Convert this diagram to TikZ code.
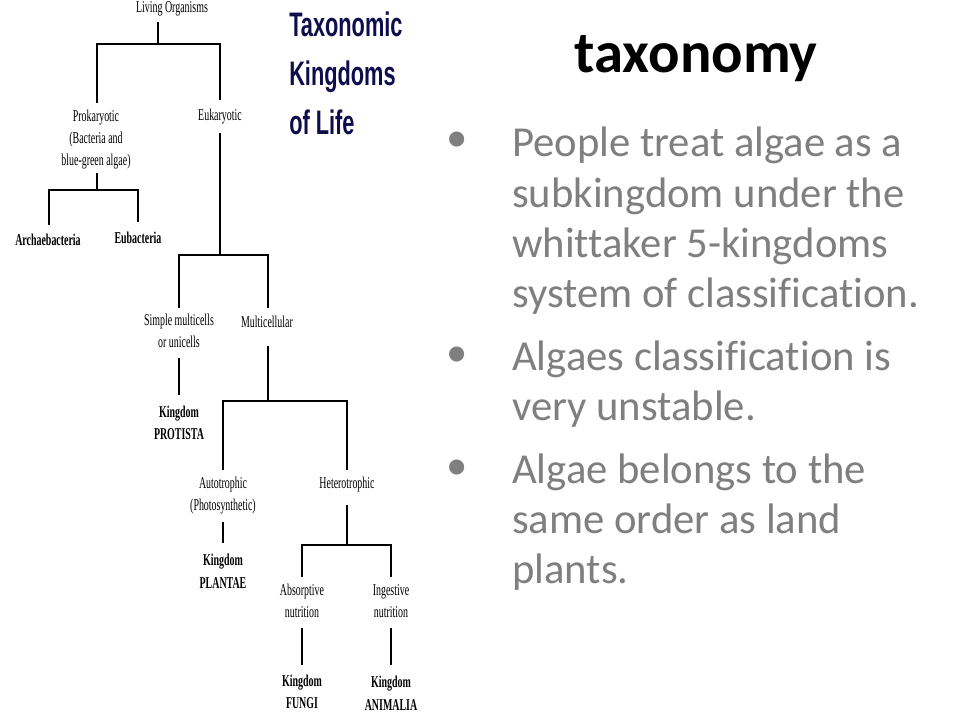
\documentclass[tikz,border=0pt]{standalone}
\usepackage{fontspec}
\setmainfont[Ligatures=NoCommon]{Carlito}
\newfontfamily\treefont[FakeStretch=0.6]{Liberation Serif}
\newfontfamily\titlefont[FakeStretch=0.64]{Liberation Sans}
\definecolor{navy}{HTML}{0E0E4C}
\definecolor{textgray}{HTML}{7F7F7F}
\begin{document}
\begin{tikzpicture}[x=0.75pt,y=-0.75pt,
  tree/.style={font=\treefont\fontsize{12.4}{16.5}\selectfont, inner sep=0pt, align=center},
  kingdom/.style={font=\treefont\bfseries\fontsize{12.4}{17}\selectfont, inner sep=0pt, align=center},
  branch/.style={line width=1.9pt},
  bulletdot/.style={font=\fontsize{32}{37.5}\selectfont, text=textgray, inner sep=0pt},
  bullettext/.style={font=\fontsize{32}{37.5}\selectfont, text=textgray, inner sep=0pt, align=left, anchor=base west}]
\useasboundingbox (0,0) rectangle (960,720);
\fill[white] (0,0) rectangle (960,720);

% ---------- tree texts ----------
\node[tree] (root) at (172,9) {Living Organisms};
\node[tree] (prok) at (96,140) {Prokaryotic\\(Bacteria and\\blue-green algae)};
\node[tree] (euk) at (220,117) {Eukaryotic};
\node[kingdom] (arch) at (48,240) {Archaebacteria};
\node[kingdom] (eub) at (138,238) {Eubacteria};
\node[tree] (simple) at (179,331) {Simple multicells\\or unicells};
\node[tree] (multi) at (267,322) {Multicellular};
\node[kingdom] (protista) at (179,423) {Kingdom\\PROTISTA};
\node[tree] (auto) at (223,496) {Autotrophic\\(Photosynthetic)};
\node[tree] (hetero) at (347,485) {Heterotrophic};
\node[kingdom] (plantae) at (223,571) {Kingdom\\PLANTAE};
\node[tree] (absorp) at (302,601) {Absorptive\\nutrition};
\node[tree] (ingest) at (391,601) {Ingestive\\nutrition};
\node[kingdom] (fungi) at (302,692) {Kingdom\\FUNGI};
\node[kingdom] (animalia) at (391,693) {Kingdom\\ANIMALIA};

% ---------- tree junction points ----------
\coordinate (rootS) at (158,22);  \coordinate (j1) at (158,44);
\coordinate (j1l) at (97,44);     \coordinate (j1r) at (220,44);
\coordinate (prokN) at (97,103);  \coordinate (eukN) at (220,100);
\coordinate (prokS) at (97,173);  \coordinate (j2) at (97,190);
\coordinate (j2l) at (49,190);    \coordinate (j2r) at (138,190);
\coordinate (archN) at (49,225);  \coordinate (eubN) at (138,222);
\coordinate (eukS) at (220,133);  \coordinate (j3) at (220,255);
\coordinate (j3l) at (179,255);   \coordinate (j3r) at (268,255);
\coordinate (simpleN) at (179,308); \coordinate (multiN) at (268,308);
\coordinate (simpleS) at (179,358); \coordinate (protistaN) at (179,395);
\coordinate (multiS) at (268,346);  \coordinate (j4) at (268,401);
\coordinate (j4l) at (223,401);   \coordinate (j4r) at (347,401);
\coordinate (autoN) at (223,470); \coordinate (heteroN) at (347,470);
\coordinate (autoS) at (223,522); \coordinate (plantaeN) at (223,543);
\coordinate (heteroS) at (347,505); \coordinate (j5) at (347,545);
\coordinate (j5l) at (302,545);   \coordinate (j5r) at (391,545);
\coordinate (absorpN) at (302,577); \coordinate (ingestN) at (391,577);
\coordinate (absorpS) at (302,628); \coordinate (fungiN) at (302,665);
\coordinate (ingestS) at (391,628); \coordinate (animaliaN) at (391,665);

% ---------- tree connectors ----------
\draw[branch] (rootS) -- (j1);
\draw[branch] (prokN) -- (j1l) -- (j1r) -- (eukN);
\draw[branch] (prokS) -- (j2);
\draw[branch] (archN) -- (j2l) -- (j2r) -- (eubN);
\draw[branch] (eukS) -- (j3);
\draw[branch] (simpleN) -- (j3l) -- (j3r) -- (multiN);
\draw[branch] (simpleS) -- (protistaN);
\draw[branch] (multiS) -- (j4);
\draw[branch] (autoN) -- (j4l) -- (j4r) -- (heteroN);
\draw[branch] (autoS) -- (plantaeN);
\draw[branch] (heteroS) -- (j5);
\draw[branch] (absorpN) -- (j5l) -- (j5r) -- (ingestN);
\draw[branch] (absorpS) -- (fungiN);
\draw[branch] (ingestS) -- (animaliaN);

% ---------- diagram title (anchor = baseline of last line) ----------
\node[font=\titlefont\bfseries\fontsize{25.5}{37.1}\selectfont, text=navy, inner sep=0pt,
      align=left, anchor=base west] (ktitle) at (289,135) {Taxonomic\\Kingdoms\\of Life};

% ---------- slide title ----------
\node[font=\bfseries\fontsize{44}{52}\selectfont, inner sep=0pt, anchor=base] (title) at (696,73) {taxonomy};

% ---------- bullets (anchor = baseline of last line) ----------
\node[bulletdot] (b1) at (457,142) {•};
\node[bulletdot] (b2) at (457,357) {•};
\node[bulletdot] (b3) at (457,470) {•};
\node[bullettext] (t1) at (512,307) {People treat algae as a\\subkingdom under the\\whittaker 5-kingdoms\\system of classification.};
\node[bullettext] (t2) at (512,420) {Algaes classification is\\very unstable.};
\node[bullettext] (t3) at (512,583) {Algae belongs to the\\same order as land\\plants.};
\end{tikzpicture}
\end{document}
